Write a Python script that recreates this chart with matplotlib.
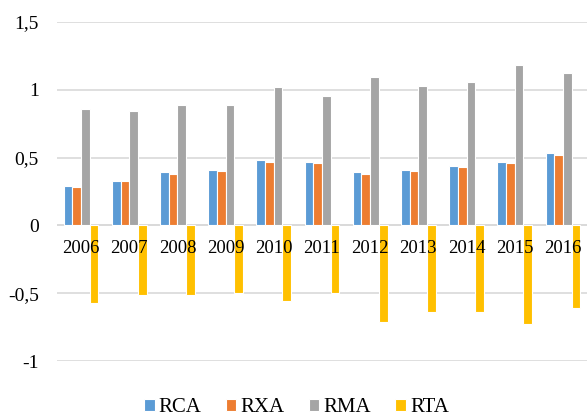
import numpy as np
import matplotlib
matplotlib.use("Agg")
import matplotlib.pyplot as plt

years = ["2006", "2007", "2008", "2009", "2010", "2011",
         "2012", "2013", "2014", "2015", "2016"]
rca = [0.29, 0.33, 0.39, 0.41, 0.48, 0.47, 0.39, 0.41, 0.44, 0.47, 0.53]
rxa = [0.28, 0.33, 0.38, 0.40, 0.47, 0.46, 0.38, 0.40, 0.43, 0.46, 0.52]
rma = [0.855, 0.84, 0.89, 0.89, 1.02, 0.95, 1.09, 1.03, 1.06, 1.18, 1.12]
rta = [-0.575, -0.515, -0.515, -0.50, -0.555, -0.495, -0.715, -0.635, -0.635, -0.725, -0.605]

series = [("RCA", rca, "#5B9BD5"), ("RXA", rxa, "#ED7D31"),
          ("RMA", rma, "#A5A5A5"), ("RTA", rta, "#FFC000")]

plt.rcParams["font.family"] = ["Liberation Serif", "DejaVu Serif"]

fig = plt.figure(figsize=(5.87, 4.19), dpi=100)
ax = fig.add_axes([0.097, 0.138, 0.903, 0.810])

x = np.arange(len(years))
w = 0.18
offsets = [-1.5 * w, -0.5 * w, 0.5 * w, 1.5 * w]
for (name, vals, col), off in zip(series, offsets):
    ax.bar(x + off, vals, width=w, color=col, edgecolor="white",
           linewidth=0.8, label=name, zorder=3)

ax.set_xlim(-0.5, len(years) - 0.5)
ax.set_ylim(-1, 1.5)
yt = [-1, -0.5, 0, 0.5, 1, 1.5]
ax.set_yticks(yt)
ax.set_yticklabels(["-1", "-0,5", "0", "0,5", "1", "1,5"], fontsize=14)
ax.tick_params(axis="y", length=0, pad=13)
ax.grid(axis="y", color="#D9D9D9", linewidth=1.2, zorder=0)

# year labels sit right under the zero line
ax.set_xticks([])
for xi, yr in zip(x, years):
    ax.text(xi, -0.105, yr, ha="center", va="top", fontsize=13.5, zorder=5)

for s in ax.spines.values():
    s.set_visible(False)
ax.axhline(0, color="#D9D9D9", linewidth=1.2, zorder=2)

fig.legend(loc="lower center", ncol=4, frameon=False,
           prop={"family": "Liberation Serif", "size": 15},
           handlelength=0.52, handleheight=0.52, handletextpad=0.2,
           columnspacing=1.15, bbox_to_anchor=(0.505, -0.04))

fig.savefig("out.png", dpi=100)
